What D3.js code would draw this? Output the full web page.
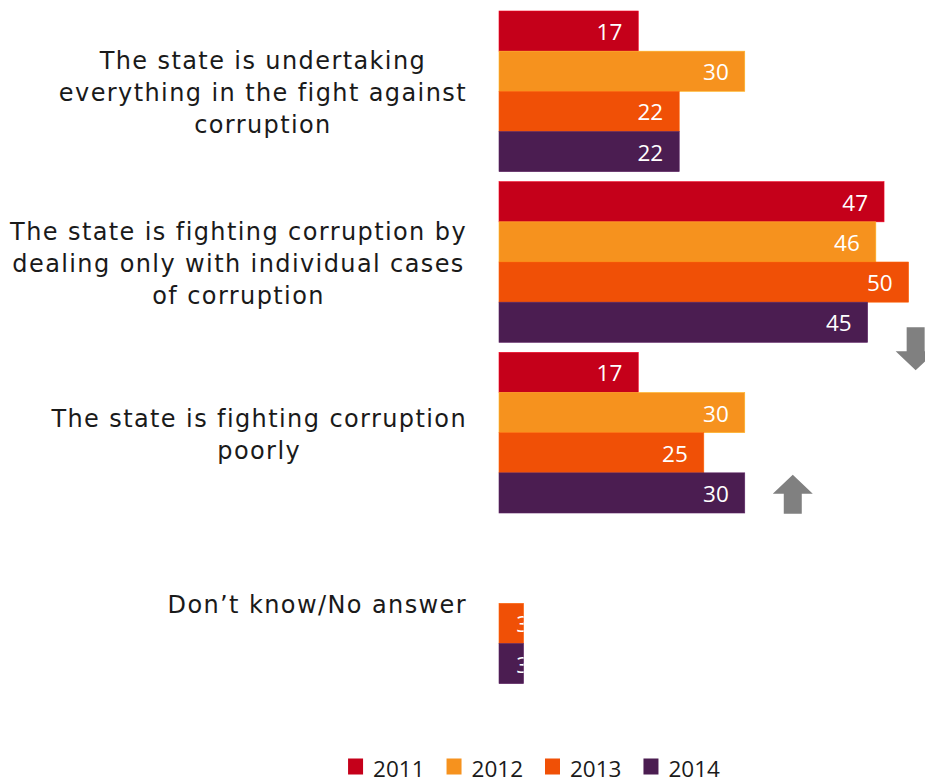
<!DOCTYPE html>
<html>
<head>
<meta charset="utf-8">
<script src="https://cdn.jsdelivr.net/npm/d3@7"></script>
<style>
  html, body { margin: 0; padding: 0; background: #ffffff; }
  svg { display: block; }
</style>
</head>
<body>
<svg id="chart" width="925" height="783"></svg>
<script>
// Survey answers, percent of respondents per year
const categoryLines = [
  ["The state is undertaking", "everything in the fight against", "corruption"],
  ["The state is fighting corruption by", "dealing only with individual cases", "of corruption"],
  ["The state is fighting corruption", "poorly"],
  ["Don\u2019t know/No answer"]
];
const years = ["2011", "2012", "2013", "2014"];
const values2011 = [17, 47, 17, null];
const values2012 = [30, 46, 30, null];
const values2013 = [22, 50, 25, 3];
const values2014 = [22, 45, 30, 3];
const yearColors = ["#C5001A", "#F6921E", "#F05006", "#4B1D51"];

// Trend arrows drawn next to the 2014 bar of a category
const trendArrows = [
  { category: 1, year: "2014", direction: "down" },
  { category: 2, year: "2014", direction: "up" }
];

const seriesValues = [values2011, values2012, values2013, values2014];
const rows = [];
categoryLines.forEach((lines, ci) => {
  years.forEach((yr, yi) => {
    rows.push({ category: ci, year: yr, value: seriesValues[yi][ci], color: yearColors[yi] });
  });
});

const svg = d3.select("#chart");

const x = d3.scaleLinear().domain([0, 52]).range([499, 925]);
const y0 = d3.scaleBand()
  .domain(d3.range(categoryLines.length))
  .range([6, 688.67])
  .paddingInner(0.0586)
  .paddingOuter(0.0293);
const y1 = d3.scaleBand().domain(years).range([0, y0.bandwidth()]);

const defs = svg.append("defs");

// Bars
const bars = svg.append("g").attr("class", "bars");
const drawn = rows.filter(d => d.value != null);

drawn.forEach((d, i) => {
  const top = y0(d.category) + y1(d.year);
  const id = "clip-" + i;
  defs.append("clipPath").attr("id", id)
    .append("rect")
    .attr("x", x(0)).attr("y", top)
    .attr("width", x(d.value) - x(0)).attr("height", y1.bandwidth());

  bars.append("rect")
    .attr("x", x(0))
    .attr("y", top)
    .attr("width", x(d.value) - x(0))
    .attr("height", y1.bandwidth())
    .attr("fill", d.color)
    .attr("stroke", d3.color(d.color).brighter(0.6))
    .attr("stroke-width", 0.6);

  const labelX = Math.max(x(d.value) - 16, x(0) + 30);
  bars.append("text")
    .attr("clip-path", "url(#" + id + ")")
    .attr("x", labelX)
    .attr("y", top + y1.bandwidth() / 2 + 9)
    .attr("text-anchor", "end")
    .attr("fill", "#ffffff")
    .attr("font-family", "'Open Sans', sans-serif")
    .attr("font-size", 22.5)
    .text(d.value);
});

// Category labels: lines centred on the widest line, which ends just left of the bars
const labelRight = 467;
const lineGap = 32;
const labels = svg.append("g").attr("class", "category-labels");
categoryLines.forEach((lines, ci) => {
  const g = labels.append("g");
  const center = y0(ci) + y0.bandwidth() / 2;
  const texts = lines.map((line, li) => g.append("text")
    .attr("y", center + 10 + (li - (lines.length - 1) / 2) * lineGap)
    .attr("text-anchor", "middle")
    .attr("font-family", "'DejaVu Sans', Verdana, sans-serif")
    .attr("font-size", 24)
    .attr("letter-spacing", 1.4)
    .attr("fill", "#1a1a1a")
    .text(line));
  const maxW = d3.max(texts, t => t.node().getComputedTextLength());
  texts.forEach(t => t.attr("x", labelRight - maxW / 2));
});

// Trend arrows
const arrowG = svg.append("g").attr("class", "arrows");
trendArrows.forEach(a => {
  const v = seriesValues[years.indexOf(a.year)][a.category];
  const barTop = y0(a.category) + y1(a.year);
  const cx = x(v) + 48;
  const hw = 20, sw = 9, head = 19;
  let pts;
  if (a.direction === "up") {
    const tip = barTop + 2, bottom = barTop + 41;
    pts = [[cx, tip], [cx + hw, tip + head], [cx + sw, tip + head], [cx + sw, bottom],
           [cx - sw, bottom], [cx - sw, tip + head], [cx - hw, tip + head]];
  } else {
    const topY = barTop + y1.bandwidth() - 15, tip = topY + 43;
    pts = [[cx - sw, topY], [cx + sw, topY], [cx + sw, tip - head], [cx + hw, tip - head],
           [cx, tip], [cx - hw, tip - head], [cx - sw, tip - head]];
  }
  arrowG.append("path")
    .attr("d", d3.line()(pts) + "Z")
    .attr("fill", "#808080");
});

// Legend
const legend = svg.append("g").attr("class", "legend");
const items = years.map((yr, i) => {
  const g = legend.append("g");
  g.append("rect").attr("x", 0).attr("y", -18).attr("width", 15).attr("height", 16).attr("fill", yearColors[i]);
  const t = g.append("text").attr("x", 25).attr("y", 0)
    .attr("font-family", "'Open Sans', sans-serif")
    .attr("font-size", 22.5)
    .attr("fill", "#1a1a1a")
    .text(yr);
  return { g, w: 25 + t.node().getComputedTextLength() };
});
const gap = 22;
const total = d3.sum(items, d => d.w) + gap * (items.length - 1);
let cursor = 534 - total / 2;
items.forEach(it => {
  it.g.attr("transform", "translate(" + cursor + ",776.5)");
  cursor += it.w + gap;
});
</script>
</body>
</html>
